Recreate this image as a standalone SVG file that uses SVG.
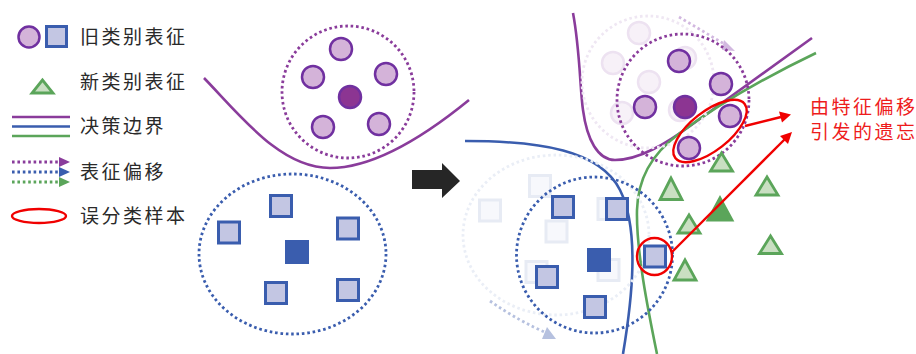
<svg xmlns="http://www.w3.org/2000/svg" width="916" height="354" viewBox="0 0 916 354">
<defs>
<style>
.oc{fill:#D4B3D9;stroke:#7030A0;stroke-width:2.5}
.ocd{fill:#8C3592;stroke:#7030A0;stroke-width:2.5}
.fc{fill:#F7F1F8;stroke:#EDE2F1;stroke-width:2.5}
.sq{fill:#C3C6E3;stroke:#3A5DAE;stroke-width:3}
.sqd{fill:#3A5DAE;stroke:#3A5DAE;stroke-width:1}
.fs{fill:#F7F8FC;stroke:#E7EBF4;stroke-width:3}
.tri{fill:#C9DFC2;stroke:#5BA55A;stroke-width:2.8}
.trid{fill:#5BA55A;stroke:#5BA55A;stroke-width:2.8}
.dot{fill:none;stroke-width:2.8;stroke-dasharray:2.6 2.8}
.pd{stroke:#8A3C9B}
.bd{stroke:#3A5DAE}
.gd{stroke:#5BA55A}
.fpd{stroke:#EFE7F3}
.fbd{stroke:#EAEEF6}
.line{fill:none;stroke-width:2.6}
.red{fill:none;stroke:#F00000;stroke-width:2.4}
.txt{font-family:"Noto Sans CJK SC","Noto Sans",sans-serif;font-size:19px;letter-spacing:2.5px;fill:#2a2a2a}
.rtxt{font-family:"Noto Sans CJK SC","Noto Sans",sans-serif;font-size:19px;letter-spacing:2.5px;fill:#EE1C1C}
</style>
</defs>
<rect width="916" height="354" fill="#ffffff"/>

<!-- Legend -->
<g id="legend">
  <g id="legend-old">
    <circle class="oc" cx="29" cy="37" r="10.5"/>
    <rect class="sq" x="46.5" y="26.5" width="20" height="20"/>
    <text class="txt" x="80" y="44">旧类别表征</text>
  </g>
  <g id="legend-new">
    <polygon class="tri" points="42.5,80 32,93 53,93"/>
    <text class="txt" x="80" y="89">新类别表征</text>
  </g>
  <g id="legend-boundary">
    <line class="line" x1="12" y1="117" x2="70" y2="117" stroke="#8A3C9B"/>
    <line class="line" x1="12" y1="126.5" x2="70" y2="126.5" stroke="#3A5DAE"/>
    <line class="line" x1="12" y1="136" x2="70" y2="136" stroke="#5BA55A"/>
    <text class="txt" x="80" y="133">决策边界</text>
  </g>
  <g id="legend-shift">
    <line class="dot pd" x1="12" y1="162" x2="59" y2="162" stroke-width="3" stroke-dasharray="3 3"/>
    <polygon points="59,157 70,162 59,167" fill="#8A3C9B"/>
    <line class="dot bd" x1="12" y1="172" x2="59" y2="172" stroke-width="3" stroke-dasharray="3 3"/>
    <polygon points="59,167 70,172 59,177" fill="#3A5DAE"/>
    <line class="dot gd" x1="12" y1="182" x2="59" y2="182" stroke-width="3" stroke-dasharray="3 3"/>
    <polygon points="59,177 70,182 59,187" fill="#5BA55A"/>
    <text class="txt" x="80" y="179">表征偏移</text>
  </g>
  <g id="legend-mis">
    <ellipse class="red" cx="39" cy="216" rx="27" ry="7"/>
    <text class="txt" x="80" y="223">误分类样本</text>
  </g>
</g>

<!-- Connectors / boundaries -->
<g id="connectors">
  <path class="line" stroke="#8A3C9B" d="M204,78 C240,115 280,168 330,168 C370,168 420,140 469,100"/>
  <polygon id="big-arrow" fill="#262626" points="412,170 442,170 442,163 460,181 442,198 442,189 412,189"/>
  <path class="line" stroke="#3A5DAE" d="M465,141 C540,141 600,150 620,190 C640,230 632,300 623,354"/>
  <path class="line" stroke="#8A3C9B" d="M573,13 C580,50 580,90 583,110 C587,140 598,160 615,160 C640,160 668,142 690,126 L812,38"/>
  <path class="line" stroke="#5BA55A" d="M657,354 C648,310 636,250 637,210 C638,180 650,155 680,133 C720,103 770,75 816,53"/>
  <path class="dot" stroke="#D2B8E0" stroke-width="3" stroke-dasharray="3 3" d="M679,17 L726,45"/>
  <polygon fill="#D2B8E0" points="724,40 735,51 722,50"/>
  <path class="dot" stroke="#B6C1DF" stroke-width="3" stroke-dasharray="3 3" d="M490,301 C510,315 530,326 547,333"/>
  <polygon fill="#B6C1DF" points="547,327 556,339 542,339"/>
</g>

<!-- Left: old class cluster -->
<g id="old-circles-left">
  <circle class="dot pd" cx="348" cy="92" r="66"/>
  <circle class="oc" cx="341" cy="49" r="11"/>
  <circle class="oc" cx="313" cy="77" r="11"/>
  <circle class="oc" cx="386" cy="74" r="11"/>
  <circle class="oc" cx="323" cy="127" r="11"/>
  <circle class="oc" cx="379" cy="124" r="11"/>
  <circle class="ocd" cx="350" cy="97" r="11"/>
</g>
<g id="old-squares-left">
  <ellipse class="dot bd" cx="292.5" cy="254" rx="93.5" ry="80"/>
  <rect class="sq" x="270.5" y="195.5" width="21" height="21"/>
  <rect class="sq" x="218.5" y="222" width="21" height="21"/>
  <rect class="sq" x="337.5" y="218" width="21" height="21"/>
  <rect class="sq" x="265.5" y="282.5" width="21" height="21"/>
  <rect class="sq" x="337.5" y="279.5" width="21" height="21"/>
  <rect class="sqd" x="285.5" y="240.5" width="23" height="23"/>
</g>

<!-- Right: faded previous positions -->
<g id="faded-circles">
  <circle class="dot fpd" cx="648" cy="82" r="66"/>
  <circle class="fc" cx="639" cy="33" r="11"/>
  <circle class="fc" cx="613" cy="63" r="11"/>
  <circle class="fc" cx="685" cy="58" r="11"/>
  <circle class="fc" cx="622" cy="113" r="11"/>
  <circle class="fc" cx="680" cy="110" r="11"/>
  <circle class="fc" cx="649" cy="82" r="11"/>
</g>
<g id="faded-squares">
  <ellipse class="dot fbd" cx="556" cy="235" rx="93" ry="80"/>
  <rect class="fs" x="529.5" y="175.5" width="21" height="21"/>
  <rect class="fs" x="479.5" y="200" width="21" height="21"/>
  <rect class="fs" x="598" y="198.5" width="21" height="21"/>
  <rect class="fs" x="546" y="221" width="21" height="21"/>
  <rect class="fs" x="526" y="261.5" width="21" height="21"/>
  <rect class="fs" x="598" y="259.5" width="21" height="21"/>
</g>

<!-- Right: current old-class circles -->
<g id="old-circles-right">
  <circle class="dot pd" cx="683" cy="100" r="66"/>
  <circle class="oc" cx="679" cy="61" r="11"/>
  <circle class="oc" cx="721" cy="84" r="11"/>
  <circle class="oc" cx="645" cy="107" r="11"/>
  <circle class="oc" cx="730" cy="116" r="11"/>
  <circle class="oc" cx="689" cy="148" r="11"/>
  <circle class="ocd" cx="685" cy="107" r="11"/>
</g>

<!-- Right: current old-class squares -->
<g id="old-squares-right">
  <circle class="dot bd" cx="594.5" cy="255" r="78"/>
  <rect class="sq" x="552.5" y="196.5" width="21" height="21"/>
  <rect class="sq" x="606.5" y="198.5" width="21" height="21"/>
  <rect class="sq" x="536.5" y="266.5" width="21" height="21"/>
  <rect class="sq" x="584.5" y="296.5" width="21" height="21"/>
  <rect class="sq" x="644.5" y="246" width="21" height="21"/>
  <rect class="sqd" x="587.5" y="248.5" width="23" height="23"/>
</g>

<!-- Right: new class triangles -->
<g id="new-triangles">
  <polygon class="tri" points="671,178 660,199.5 682,199.5"/>
  <polygon class="tri" points="721.5,153 710.5,171 732.5,171"/>
  <polygon class="tri" points="767,177 756,195 778,195"/>
  <polygon class="tri" points="689,215 678,233 700,233"/>
  <polygon class="trid" points="720,198 708,220 732,220"/>
  <polygon class="tri" points="685,260 674,280 696,280"/>
  <polygon class="tri" points="770.5,236 759.5,253.5 781.5,253.5"/>
</g>

<!-- Misclassified samples and annotation -->
<g id="misclassified">
  <ellipse class="red" cx="710" cy="131" rx="44" ry="19.5" transform="rotate(-38 710 131)"/>
  <ellipse class="red" cx="654.5" cy="256.5" rx="17.5" ry="18.5"/>
  <line class="red" x1="745" y1="126" x2="781" y2="117"/>
  <polygon fill="#F00000" points="791,114.5 779,111.5 782,122.5"/>
  <line class="red" x1="672" y1="252" x2="785" y2="139"/>
  <polygon fill="#F00000" points="792,132 780,136 788,144"/>
</g>
<g id="annotation">
  <text class="rtxt" x="810" y="114">由特征偏移</text>
  <text class="rtxt" x="810" y="139">引发的遗忘</text>
</g>
</svg>
